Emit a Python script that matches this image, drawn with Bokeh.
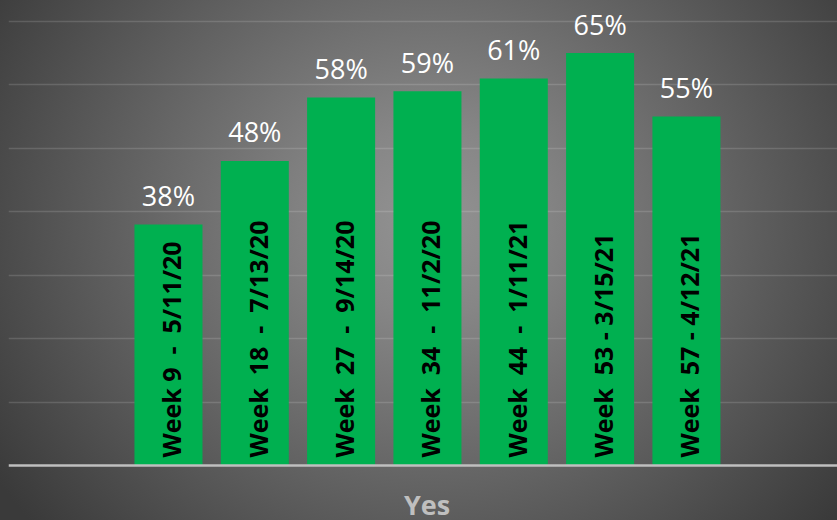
from bokeh.plotting import figure
from bokeh.models import ColumnDataSource, Range1d, FixedTicker, Grid, Label, Span
from bokeh.core.properties import value
from bokeh.embed import file_html
from bokeh.resources import INLINE

NB = "\u00a0"  # keeps the doubled spaces of the original labels

# ---- data ----
categories = [
    "Week 9  -  5/11/20",
    "Week  18  -  7/13/20",
    "Week  27  -  9/14/20",
    "Week  34  -  11/2/20",
    "Week  44  -  1/11/21",
    "Week  53 - 3/15/21",
    "Week  57 - 4/12/21",
]
values = [38, 48, 58, 59, 61, 65, 55]
pct_labels = ["38%", "48%", "58%", "59%", "61%", "65%", "55%"]
grid_ticks = [10, 20, 30, 40, 50, 60, 70]
axis_title = "Yes"

positions = list(range(1, len(categories) + 1))
shown_cats = [c.replace("  ", " " + NB) for c in categories]
source = ColumnDataSource(dict(x=positions, top=values, cat=shown_cats, pct=pct_labels))

x_rng = Range1d(-0.853, 8.75)
y_rng = Range1d(-8.67, 73.29)   # lower part holds the category-axis title

p = figure(
    width=837, height=520,
    output_backend="svg", toolbar_location=None,
    x_range=x_rng, y_range=y_rng,
    x_axis_location=None, y_axis_location=None,
    min_border_left=8, min_border_right=0, min_border_top=0, min_border_bottom=0,
)
p.background_fill_color = None
p.border_fill_color = None
p.outline_line_color = None
p.styles = {
    "background": "radial-gradient(ellipse 520px 470px at 430px 220px, #939393 0%, #868686 20%, #3a3a3a 100%)"
}

for g in p.grid:
    g.visible = False
ygrid = Grid(dimension=1, ticker=FixedTicker(ticks=grid_ticks),
             grid_line_color="white", grid_line_alpha=0.14, grid_line_width=1.5)
p.add_layout(ygrid, "center")

p.vbar(x="x", top="top", width=0.788, source=source,
       fill_color="#00B050", line_color=None)

# category axis line at zero
p.add_layout(Span(location=0, dimension="width", line_color="#BFBFBF", line_width=2.5))

# value labels above bars
p.text(x="x", y="top", text="pct", source=source,
       text_align="center", text_baseline="alphabetic", y_offset=-29,
       text_color="white", text_font=value("Open Sans"), text_font_size="27px")

# rotated category labels inside bars
p.text(x="x", y=0, text="cat", source=source, angle=1.5707963,
       text_align="left", text_baseline="middle", y_offset=-8, x_offset=3,
       text_color="black", text_font=value("Open Sans"), text_font_style="bold",
       text_font_size="25px")

# axis title below the axis line
title_lbl = Label(
    x=(x_rng.start + x_rng.end) / 2, y=0, text=axis_title,
    x_offset=4, y_offset=-39,
    text_align="center", text_baseline="alphabetic",
    text_font="Open Sans", text_font_style="bold", text_font_size="27px",
    text_color="#BFBFBF",
)
p.add_layout(title_lbl)

open("out.html", "w").write(file_html(p, INLINE))
